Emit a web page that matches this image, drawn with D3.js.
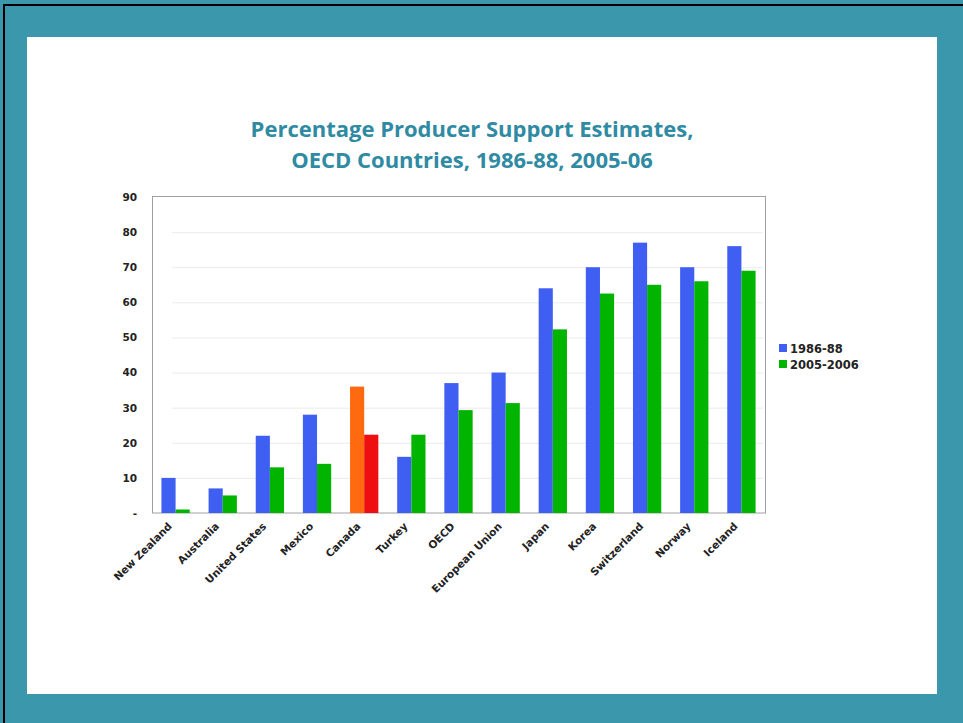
<!DOCTYPE html>
<html><head><meta charset="utf-8">
<script src="https://cdn.jsdelivr.net/npm/d3@7"></script>
<style>html,body{margin:0;padding:0;background:#fff;}svg{display:block;}</style>
</head><body>
<script>
const categories = ["New Zealand","Australia","United States","Mexico","Canada","Turkey","OECD","European Union","Japan","Korea","Switzerland","Norway","Iceland"];
const series1986 = [10, 7, 22, 28, 36, 16, 37, 40, 64, 70, 77, 70, 76];
const series2005 = [1, 5, 13, 14, 22.3, 22.3, 29.3, 31.3, 52.3, 62.5, 65, 66, 69];
const seriesNames = ["1986-88", "2005-2006"];
const yTicks = [0, 10, 20, 30, 40, 50, 60, 70, 80, 90];
const yTickLabels = ["-", "10", "20", "30", "40", "50", "60", "70", "80", "90"];
const titleLines = ["Percentage Producer Support Estimates,", "OECD Countries, 1986-88, 2005-06"];

const W = 963, H = 723;
const svg = d3.select("body").append("svg").attr("width", W).attr("height", H);

// frame
svg.append("rect").attr("x",0).attr("y",0).attr("width",W).attr("height",H).attr("fill","#3b97ac");
svg.append("rect").attr("x",3).attr("y",4).attr("width",W-3).attr("height",2).attr("fill","#000");
svg.append("rect").attr("x",3).attr("y",4).attr("width",2).attr("height",H-4).attr("fill","#000");
svg.append("rect").attr("x",27).attr("y",37).attr("width",910).attr("height",657).attr("fill","#fff");

// title
const title = svg.append("text").attr("text-anchor","middle")
  .attr("font-family","'Open Sans', Lato, sans-serif").attr("font-weight","bold")
  .attr("font-size",22).attr("fill","#2f8aa3");
titleLines.forEach((t,i)=>title.append("tspan").attr("x",472).attr("y",137+i*31).text(t));

const m = {left:152, right:765, top:197, bottom:513};
const x = d3.scaleBand().domain(categories).range([m.left, m.right]).paddingInner(0.4).paddingOuter(0.2);
const x2 = d3.scaleBand().domain(seriesNames).range([0, x.bandwidth()]);
const y = d3.scaleLinear().domain([0, 90]).range([m.bottom, m.top]);

// gridlines
svg.append("g").selectAll("line").data(yTicks.filter(v=>v>0 && v<90)).join("line")
  .attr("x1", m.left+20).attr("x2", m.right-2)
  .attr("y1", d=>y(d)+0.5).attr("y2", d=>y(d)+0.5)
  .attr("stroke","#ebebeb").attr("stroke-width",1);

// plot border
svg.append("rect").attr("x",m.left+0.5).attr("y",m.top-0.5).attr("width",m.right-m.left).attr("height",m.bottom-m.top+0.5)
  .attr("fill","none").attr("stroke","#a0a0a0").attr("stroke-width",1);

// bars
const colors1 = categories.map(c => c === "Canada" ? "#ff6a10" : "#3f5ef2");
const colors2 = categories.map(c => c === "Canada" ? "#ee1010" : "#00b400");
const g = svg.append("g");
g.selectAll("rect.a").data(series1986).join("rect").attr("class","a")
  .attr("x",(d,i)=>x(categories[i])+x2(seriesNames[0])).attr("width",x2.bandwidth())
  .attr("y",d=>y(d)).attr("height",d=>y(0)-y(d)).attr("fill",(d,i)=>colors1[i]);
g.selectAll("rect.b").data(series2005).join("rect").attr("class","b")
  .attr("x",(d,i)=>x(categories[i])+x2(seriesNames[1])).attr("width",x2.bandwidth())
  .attr("y",d=>y(d)).attr("height",d=>y(0)-y(d)).attr("fill",(d,i)=>colors2[i]);

// y axis labels
const yAxis = d3.axisLeft(y).tickValues(yTicks).tickFormat((d,i)=>yTickLabels[i]).tickSize(0).tickPadding(0);
const ya = svg.append("g").attr("transform",`translate(${m.left-15},0)`).call(yAxis);
ya.select(".domain").remove();
ya.selectAll("text").attr("font-family","'DejaVu Sans', Verdana, sans-serif").attr("font-weight","bold")
  .attr("font-size",10.5).attr("fill","#222");

// x axis labels
const xAxis = d3.axisBottom(x).tickSize(0).tickPadding(0);
const xa = svg.append("g").attr("transform",`translate(0,${m.bottom})`).call(xAxis);
xa.select(".domain").remove();
xa.selectAll("text")
  .attr("font-family","'DejaVu Sans', Verdana, sans-serif").attr("font-weight","bold")
  .attr("font-size",10.5).attr("fill","#222")
  .attr("text-anchor","end").attr("dy",0)
  .attr("transform","translate(-3,14) rotate(-45)");

// legend
const lg = svg.append("g").attr("transform","translate(779,344)");
const legendColors = ["#3f5ef2","#00b400"];
seriesNames.forEach((s,i)=>{
  lg.append("rect").attr("x",0).attr("y",i*16).attr("width",8).attr("height",8).attr("fill",legendColors[i]);
  lg.append("text").attr("x",11).attr("y",i*16+8.5).text(s)
    .attr("font-family","'DejaVu Sans', Verdana, sans-serif").attr("font-weight","bold")
    .attr("font-size",11.5).attr("fill","#222");
});
</script>
</body></html>
